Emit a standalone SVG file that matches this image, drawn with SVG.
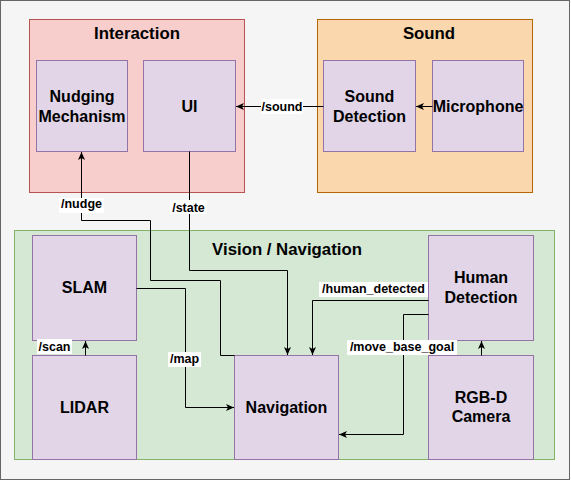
<svg xmlns="http://www.w3.org/2000/svg" width="571" height="481" viewBox="0 0 571 481">
<defs>
<marker id="arr" viewBox="0 0 8 8" refX="8" refY="4" markerWidth="8" markerHeight="8" markerUnits="userSpaceOnUse" orient="auto">
<path d="M0,0.5 L8,4 L0,7.5 L2,4 Z" fill="#000"/>
</marker>
<style>
.bg{fill:#f5f5f5;stroke:#666666;stroke-width:1}
.node{fill:#e1d5e7;stroke:#9673a6;stroke-width:1}
.t{font-family:"Liberation Sans",Arial,sans-serif;font-weight:bold;font-size:16px;fill:#000;text-anchor:middle}
.title{font-size:16.8px}
.lbl{font-family:"Liberation Sans",Arial,sans-serif;font-weight:bold;font-size:12.5px;fill:#000;text-anchor:middle}
.lb{fill:#fff}
.e{fill:none;stroke:#000;stroke-width:1;marker-end:url(#arr)}
</style>
</defs>
<rect class="bg" x="0.5" y="0.5" width="569" height="479"/>

<g id="interaction">
<rect x="29.5" y="19.5" width="215" height="173" fill="#f8cecc" stroke="#b85450"/>
<text class="t title" x="137" y="39">Interaction</text>
</g>
<g id="sound">
<rect x="317.5" y="19.5" width="215" height="173" fill="#fad7ac" stroke="#b46504"/>
<text class="t title" x="429" y="39">Sound</text>
</g>
<g id="vision-navigation">
<rect x="14.5" y="230.5" width="540" height="229" fill="#d5e8d4" stroke="#82b366"/>
<text class="t title" x="287" y="255">Vision / Navigation</text>
</g>

<g id="nudging">
<rect class="node" x="36.5" y="60.5" width="91" height="91"/>
<text class="t" x="82" y="102">Nudging</text>
<text class="t" x="82" y="122">Mechanism</text>
</g>
<g id="ui">
<rect class="node" x="143.5" y="60.5" width="92" height="91"/>
<text class="t" x="189.5" y="112">UI</text>
</g>
<g id="sound-detection">
<rect class="node" x="323.5" y="60.5" width="92" height="91"/>
<text class="t" x="369.5" y="102">Sound</text>
<text class="t" x="369.5" y="122">Detection</text>
</g>
<g id="microphone">
<rect class="node" x="432.5" y="60.5" width="91" height="91"/>
<text class="t" x="478" y="112">Microphone</text>
</g>
<g id="slam">
<rect class="node" x="32.5" y="235.5" width="104" height="105"/>
<text class="t" x="84.5" y="293">SLAM</text>
</g>
<g id="lidar">
<rect class="node" x="32.5" y="355.5" width="104" height="104"/>
<text class="t" x="84.5" y="413">LIDAR</text>
</g>
<g id="navigation">
<rect class="node" x="234.5" y="355.5" width="104" height="104"/>
<text class="t" x="286.5" y="413">Navigation</text>
</g>
<g id="human-detection">
<rect class="node" x="428.5" y="235.5" width="105" height="105"/>
<text class="t" x="481" y="283">Human</text>
<text class="t" x="481" y="303">Detection</text>
</g>
<g id="rgbd-camera">
<rect class="node" x="428.5" y="355.5" width="105" height="104"/>
<text class="t" x="481" y="403">RGB-D</text>
<text class="t" x="481" y="422">Camera</text>
</g>

<g id="connectors">
<path class="e" d="M432.5,106.5 L416,106.5"/>
<path class="e" d="M323.5,106.5 L236,106.5"/>
<path class="e" d="M189.5,151.5 L189.5,270.5 L287.5,270.5 L287.5,355"/>
<path class="e" d="M234.5,355.5 L220.5,355.5 L220.5,280.5 L150.5,280.5 L150.5,220.5 L81.5,220.5 L81.5,152"/>
<path class="e" d="M136.5,288.5 L185.5,288.5 L185.5,407.5 L234,407.5"/>
<path class="e" d="M85.5,355.5 L85.5,341"/>
<path class="e" d="M481.5,355.5 L481.5,341"/>
<path class="e" d="M428.5,300.5 L312.5,300.5 L312.5,355"/>
<path class="e" d="M428.5,314.5 L403.5,314.5 L403.5,434.5 L339,434.5"/>

<rect class="lb" x="261" y="99" width="42" height="15"/>
<text class="lbl" x="282" y="111">/sound</text>
<rect class="lb" x="59" y="198" width="45" height="15"/>
<text class="lbl" x="81.5" y="208">/nudge</text>
<rect class="lb" x="170" y="200" width="37" height="14"/>
<text class="lbl" x="188.5" y="211.5">/state</text>
<rect class="lb" x="37" y="339" width="35" height="15"/>
<text class="lbl" x="54.5" y="351">/scan</text>
<rect class="lb" x="168" y="352" width="33" height="15"/>
<text class="lbl" x="184.5" y="363">/map</text>
<rect class="lb" x="319" y="282" width="109" height="15"/>
<text class="lbl" x="373.5" y="293">/human_detected</text>
<rect class="lb" x="347" y="340" width="110" height="15"/>
<text class="lbl" x="402" y="351">/move_base_goal</text>
</g>
</svg>
